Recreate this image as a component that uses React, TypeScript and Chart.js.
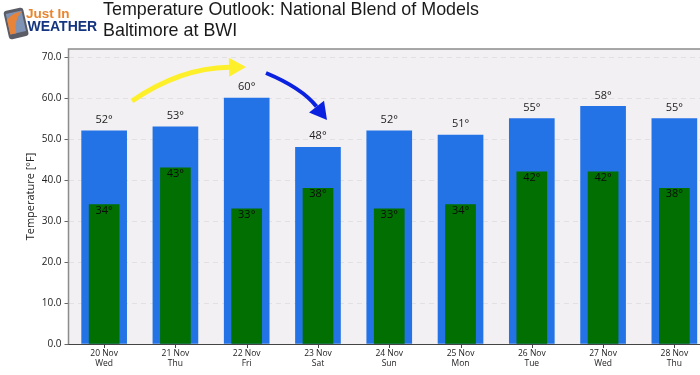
import React, { useEffect, useRef } from "react";
import { Chart, registerables } from "chart.js";

Chart.register(...registerables);

const dates = ["20 Nov", "21 Nov", "22 Nov", "23 Nov", "24 Nov", "25 Nov", "26 Nov", "27 Nov", "28 Nov"];
const weekdays = ["Wed", "Thu", "Fri", "Sat", "Sun", "Mon", "Tue", "Wed", "Thu"];
const highs = [52, 53, 60, 48, 52, 51, 55, 58, 55];
const lows = [34, 43, 33, 38, 33, 34, 42, 42, 38];
const titleLines = ["Temperature Outlook: National Blend of Models", "Baltimore at BWI"];

const FONT = '"Open Sans", "Noto Sans", sans-serif';

function drawArrow(ctx: CanvasRenderingContext2D, p0: number[], c: number[], p1: number[], color: string, width: number) {
  const ang = Math.atan2(p1[1] - c[1], p1[0] - c[0]);
  const len = 17;
  const hw = 9.5;
  const bx = p1[0] - Math.cos(ang) * len;
  const by = p1[1] - Math.sin(ang) * len;
  ctx.save();
  ctx.strokeStyle = color;
  ctx.lineWidth = width;
  ctx.beginPath();
  ctx.moveTo(p0[0], p0[1]);
  ctx.quadraticCurveTo(c[0], c[1], bx, by);
  ctx.stroke();
  ctx.fillStyle = color;
  ctx.beginPath();
  ctx.moveTo(p1[0], p1[1]);
  ctx.lineTo(bx - Math.sin(ang) * hw, by + Math.cos(ang) * hw);
  ctx.lineTo(bx + Math.sin(ang) * hw, by - Math.cos(ang) * hw);
  ctx.closePath();
  ctx.fill();
  ctx.restore();
}

const decor = {
  id: "decor",
  beforeDraw(chart: any) {
    const { ctx, chartArea: a } = chart;
    ctx.save();
    ctx.fillStyle = "#f2f0f2";
    ctx.fillRect(a.left, a.top, a.right - a.left, a.bottom - a.top);
    ctx.restore();
  },
  afterDatasetsDraw(chart: any) {
    const { ctx, chartArea: a } = chart;
    ctx.save();
    ctx.strokeStyle = "#8c8c8c";
    ctx.lineWidth = 1.5;
    ctx.beginPath();
    ctx.moveTo(a.left, a.bottom);
    ctx.lineTo(a.left, a.top);
    ctx.lineTo(a.right, a.top);
    ctx.stroke();
    ctx.strokeStyle = "#444";
    ctx.lineWidth = 1;
    ctx.beginPath();
    ctx.moveTo(a.left, a.bottom + 0.5);
    ctx.lineTo(a.right, a.bottom + 0.5);
    chart.getDatasetMeta(0).data.forEach((el: any) => {
      ctx.moveTo(Math.round(el.x) + 0.5, a.bottom);
      ctx.lineTo(Math.round(el.x) + 0.5, a.bottom + 4);
    });
    ctx.stroke();

    ctx.textAlign = "center";
    ctx.textBaseline = "middle";
    ctx.font = `11px ${FONT}`;
    ctx.fillStyle = "#222";
    chart.getDatasetMeta(0).data.forEach((el: any, i: number) => {
      ctx.fillText(`${highs[i]}°`, el.x, el.y - 11);
    });
    ctx.fillStyle = "#0c0c0c";
    chart.getDatasetMeta(1).data.forEach((el: any, i: number) => {
      ctx.fillText(`${lows[i]}°`, el.x, el.y + 6);
    });
    ctx.restore();

    drawArrow(ctx, [132, 101], [180, 68], [246, 67], "#fdf02a", 5);
    drawArrow(ctx, [266, 73], [302, 88], [327, 120], "#0a22e0", 4);

    // title
    ctx.save();
    ctx.fillStyle = "#1a1a1a";
    ctx.textAlign = "left";
    ctx.textBaseline = "middle";
    ctx.font = '17.9px "Liberation Sans", sans-serif';
    ctx.fillText(titleLines[0], 103, 10.5);
    ctx.fillText(titleLines[1], 103, 31);

    // logo
    ctx.save();
    ctx.translate(16, 23);
    ctx.rotate(-0.22);
    ctx.fillStyle = "#5c5c66";
    ctx.beginPath();
    ctx.roundRect(-10, -14, 20, 29, 3);
    ctx.fill();
    ctx.fillStyle = "#7f93b5";
    ctx.fillRect(-8, -11, 16, 21);
    ctx.fillStyle = "#e8833a";
    ctx.beginPath();
    ctx.moveTo(-8, 10);
    ctx.lineTo(-8, -5);
    ctx.quadraticCurveTo(-1, -11, 8, -10);
    ctx.quadraticCurveTo(-2, -3, -2, 10);
    ctx.closePath();
    ctx.fill();
    ctx.restore();

    ctx.fillStyle = "#e8852e";
    ctx.font = 'bold 13.5px "Liberation Sans", sans-serif';
    ctx.fillText("Just In", 26, 14);
    ctx.fillStyle = "#14357f";
    ctx.font = 'bold 14px "Liberation Sans", sans-serif';
    ctx.fillText("WEATHER", 27.5, 27);
    ctx.restore();
  },
};

export default function App() {
  const ref = useRef<HTMLCanvasElement>(null);
  useEffect(() => {
    document.body.style.margin = "0";
    document.body.style.overflow = "hidden";
    const chart = new Chart(ref.current!, {
      type: "bar",
      plugins: [decor],
      data: {
        labels: dates.map((d, i) => [d, weekdays[i]]),
        datasets: [
          { label: "High", data: highs, backgroundColor: "#2372e6", barThickness: 45, grouped: false, order: 2 },
          { label: "Low", data: lows, backgroundColor: "#016f01", barThickness: 30, grouped: false, order: 1 },
        ],
      } as any,
      options: {
        responsive: false,
        animation: false,
        layout: { padding: { top: 49, left: 0, right: 0, bottom: 0 } },
        plugins: { legend: { display: false }, title: { display: false }, tooltip: { enabled: false } },
        scales: {
          x: {
            grid: { display: false },
            border: { display: false },
            ticks: {
              color: "#222",
              font: { family: FONT, size: 8.5, lineHeight: 1.15 },
              maxRotation: 0,
              autoSkip: false,
              padding: -3,
            },
            afterFit(s: any) {
              s.height = 31;
            },
          },
          y: {
            min: 0,
            max: 72,
            afterBuildTicks(s: any) {
              s.ticks = [0, 10, 20, 30, 40, 50, 60, 70].map((v) => ({ value: v }));
            },
            grid: { color: "#e2e0e2", tickColor: "#666", tickLength: 4, drawTicks: true },
            border: { display: false, dash: [5, 4] },
            ticks: {
              color: "#222",
              font: { family: FONT, size: 10 },
              padding: 3,
              callback: (v: any) => Number(v).toFixed(1),
            },
            title: {
              display: true,
              text: "Temperature [°F]",
              color: "#222",
              font: { family: FONT, size: 11 },
              padding: { top: 24, bottom: 0 },
            },
            afterFit(s: any) {
              s.width = 68.5;
            },
          },
        },
      } as any,
    });
    return () => chart.destroy();
  }, []);
  return (
    <div style={{ width: 700, height: 375, overflow: "hidden", background: "#fff" }}>
      <canvas ref={ref} width={710} height={375} style={{ display: "block" }} />
    </div>
  );
}
